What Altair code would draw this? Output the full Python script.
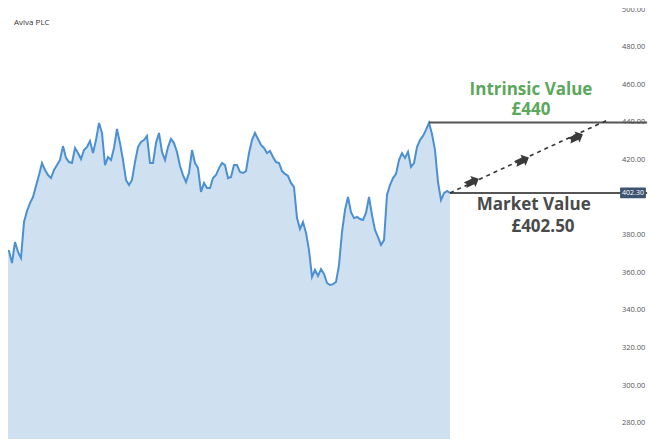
import altair as alt
import pandas as pd

# ---- data ----
chart_title = "Aviva PLC"
prices = [
    377.4, 370.5, 372.1, 371.6, 365.2, 376.4, 371.1, 367.9, 387.0, 392.9,
    397.1, 400.3, 406.2, 412.0, 418.4, 414.7, 412.0, 410.4, 414.7, 417.3,
    420.0, 427.4, 421.1, 418.9, 418.4, 426.4, 423.7, 420.5, 425.3, 426.9,
    430.1, 423.7, 430.6, 439.7, 434.4, 417.3, 421.6, 420.0, 426.4, 436.5,
    429.0, 420.0, 409.4, 406.7, 409.4, 418.9, 426.9, 429.6, 430.6, 432.8,
    418.4, 418.4, 429.0, 434.4, 424.3, 420.0, 426.9, 431.2, 429.0, 424.3,
    416.8, 412.0, 408.3, 413.1, 425.3, 418.4, 415.7, 403.0, 407.8, 405.1,
    405.1, 410.4, 412.0, 415.7, 418.4, 417.3, 410.4, 411.0, 417.3, 417.3,
    413.6, 413.1, 414.1, 423.7, 430.6, 434.4, 431.2, 428.0, 426.4, 423.7,
    424.8, 421.6, 418.9, 418.4, 414.1, 412.6, 411.5, 407.8, 405.6, 389.1,
    383.3, 387.0, 381.2, 372.1, 357.8, 361.5, 358.3, 362.0, 359.4, 354.6,
    353.5, 354.0, 355.1, 364.1, 381.7, 393.4, 400.3, 392.3, 389.1, 389.7,
    388.6, 388.1, 391.8, 400.3, 390.7, 382.8, 379.0, 374.8, 377.4, 401.4,
    406.7, 410.4, 412.6, 420.0, 423.7, 421.1, 424.3, 416.3, 418.4, 426.9,
    430.6, 432.8, 436.0, 439.8, 433.8, 425.3, 408.3, 398.7, 402.4, 403.5,
    402.5,
]
days = list(range(len(prices)))

intrinsic_value = 440.0
market_value = 402.5
peak_day = 143
last_day = days[-1]
line_end_day = 215.7
tag_text = "402.30"
# the 400.00 label sits under the price tag in the reference and is not visible
y_ticks = [280, 300, 320, 340, 360, 380, 420, 440, 460, 480, 500]
y_tick_labels = ["280.00", "300.00", "320.00", "340.00", "360.00", "380.00",
                 "420.00", "440.00", "460.00", "480.00", "500.00"]
tick_label_day = 207.3

# projection (dashed) line from market value toward intrinsic value
proj_days = [last_day, 202.3]
proj_vals = [market_value, 441.1]
arrow_days = [157.3, 174.0, 192.0]
arrow_vals = [408.3, 419.6, 432.0]

label_top = ["Intrinsic Value", "£440"]
label_top_pos = (177.0, 457.0)
label_bot = ["Market Value", "£402.50"]
label_bot_days = [177.9, 181.0]
label_bot_vals = [396.1, 384.4]

# ---- frames ----
df = pd.DataFrame({"day": days, "price": prices})
hlines = pd.DataFrame({
    "d1": [peak_day, last_day],
    "d2": [line_end_day, line_end_day],
    "price": [intrinsic_value, market_value],
})
proj = pd.DataFrame({"d1": [proj_days[0]], "d2": [proj_days[1]],
                     "price": [proj_vals[0]], "p2": [proj_vals[1]]})
arrows = pd.DataFrame({"day": arrow_days, "price": arrow_vals})
top_txt = pd.DataFrame({"day": [label_top_pos[0]], "price": [label_top_pos[1]],
                        "t": [label_top]})
bot_txt = pd.DataFrame({"day": label_bot_days, "price": label_bot_vals,
                        "t": label_bot})
tag = pd.DataFrame({"d1": [206.7], "d2": [215.3], "dm": [211.0],
                    "price": [market_value - 2.9], "p2": [market_value + 2.9],
                    "pm": [market_value], "t": [tag_text]})
ticks = pd.DataFrame({"day": [tick_label_day] * len(y_ticks), "price": y_ticks,
                      "t": y_tick_labels})
ttl = pd.DataFrame({"t": [chart_title]})

xscale = alt.Scale(domain=[8 / 3, 220], nice=False, zero=False)
yscale = alt.Scale(domain=[271.6, 500.85], nice=False, zero=False)


def X(f="day"):
    return alt.X(f"{f}:Q", scale=xscale, axis=None)


def Y(f="price"):
    return alt.Y(f"{f}:Q", scale=yscale, axis=None)


area = alt.Chart(df).mark_area(color="#cfe0f1", clip=True).encode(x=X(), y=Y())
line = alt.Chart(df).mark_line(color="#4a90d2", strokeWidth=2, clip=True).encode(
    x=X(), y=Y())

tick_text = alt.Chart(ticks).mark_text(
    font="Open Sans", fontSize=7.5, color="#555555", align="left",
    baseline="middle").encode(x=X(), y=Y(), text="t:N")

rules = alt.Chart(hlines).mark_rule(color="#555555", strokeWidth=2).encode(
    x=X("d1"), x2="d2:Q", y=Y())

dashed = alt.Chart(proj).mark_rule(color="#333333", strokeWidth=1.6,
                                   strokeDash=[4, 4]).encode(
    x=X("d1"), x2="d2:Q", y=Y(), y2="p2:Q")

arrow_path = "M-1,-0.4 L0.15,-0.4 L0.15,-0.8 L1,0 L0.15,0.8 L0.15,0.4 L-1,0.4 L-0.7,0 Z"
arrow_marks = alt.Chart(arrows).mark_point(
    shape=arrow_path, filled=True, size=230, angle=335,
    color="#3a3a3a", opacity=1).encode(x=X(), y=Y())

top_text = alt.Chart(top_txt).mark_text(
    font="Open Sans", fontWeight="bold", fontSize=17, color="#5ba75b",
    align="center", baseline="middle", lineHeight=20).encode(
    x=X(), y=Y(), text="t")
bot_text = alt.Chart(bot_txt).mark_text(
    font="Open Sans", fontWeight="bold", fontSize=17, color="#4a4a4a",
    align="center", baseline="middle").encode(
    x=X(), y=Y(), text="t:N")

tag_rect = alt.Chart(tag).mark_rect(color="#3e5272", cornerRadius=1).encode(
    x=X("d1"), x2="d2:Q", y=Y(), y2="p2:Q")
tag_text_m = alt.Chart(tag).mark_text(
    font="Open Sans", fontSize=7, color="#ffffff", align="center",
    baseline="middle").encode(x=X("dm"), y=Y("pm"), text="t:N")

title_m = alt.Chart(ttl).mark_text(
    font="Open Sans", fontSize=8, color="#333333", align="left",
    baseline="middle").encode(x=alt.value(6), y=alt.value(15), text="t:N")

chart = alt.layer(
    area, line, tick_text, rules, dashed, arrow_marks, top_text, bot_text,
    tag_rect, tag_text_m, title_m
).properties(
    width=652, height=431, padding=0,
    autosize=alt.AutoSizeParams(type="none"),
).configure_view(stroke=None)

chart.save("out.html", embed_options={"renderer": "svg", "actions": False})
